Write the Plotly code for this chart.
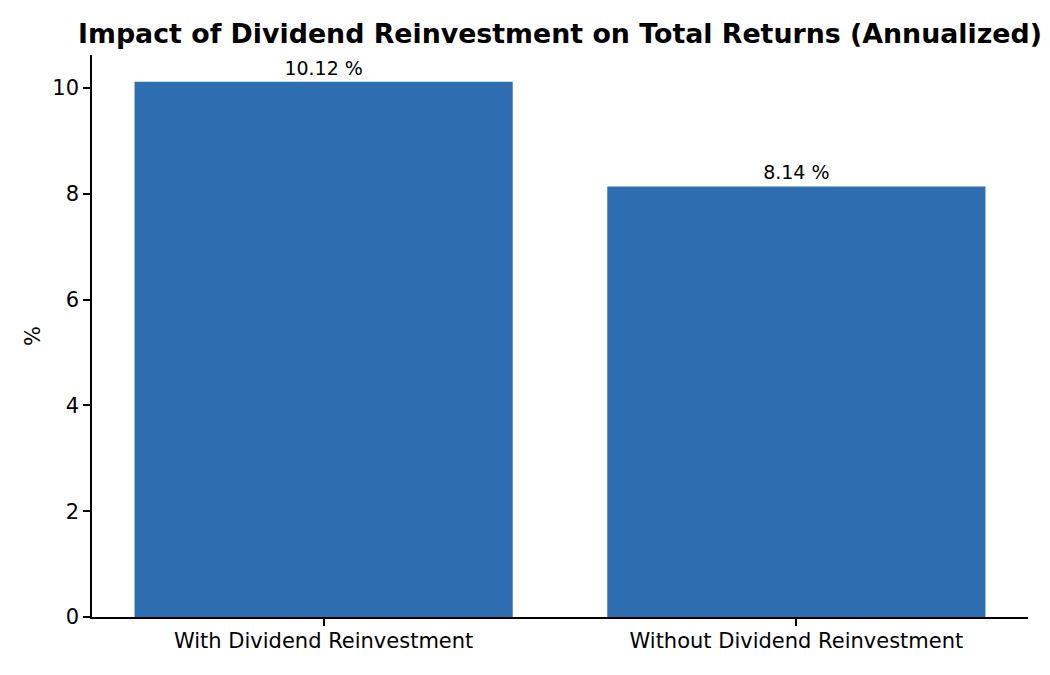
import plotly.graph_objects as go

categories = ["With Dividend Reinvestment", "Without Dividend Reinvestment"]
returns_pct = [10.12, 8.14]
value_labels = [f"{v:.2f} %" for v in returns_pct]

fig = go.Figure()

# Bars with value labels on top
fig.add_trace(
    go.Bar(
        x=[0, 1],
        y=returns_pct,
        width=0.8,
        marker=dict(color="#2e6db0", line=dict(width=0)),
        text=value_labels,
        textposition="outside",
        textfont=dict(family="DejaVu Sans", size=19, color="black"),
        cliponaxis=False,
        showlegend=False,
    )
)

# page body adds 8px, so the figure is a bit smaller than the window
fig.update_layout(
    width=1034,
    height=659,
    margin=dict(l=84, r=14, t=47, b=50),
    plot_bgcolor="white",
    paper_bgcolor="white",
    font=dict(family="DejaVu Sans", size=21, color="black"),
    title=dict(
        text="<b>Impact of Dividend Reinvestment on Total Returns (Annualized)</b>",
        x=0.5,
        xref="paper",
        xanchor="center",
        y=0.9605,
        yanchor="middle",
        font=dict(family="DejaVu Sans", size=26.8, color="black"),
    ),
)

fig.update_xaxes(
    range=[-0.49, 1.49],
    tickvals=[0, 1],
    ticktext=categories,
    showline=True,
    linecolor="black",
    linewidth=1.6,
    ticks="outside",
    ticklen=7,
    tickwidth=1.6,
    tickcolor="black",
    ticklabelstandoff=-3,
    showgrid=False,
    zeroline=False,
    tickfont=dict(size=21),
)
fig.update_yaxes(
    range=[0, 10.626],
    tickvals=[0, 2, 4, 6, 8, 10],
    showline=True,
    linecolor="black",
    linewidth=1.6,
    ticks="outside",
    ticklen=7,
    tickwidth=1.6,
    tickcolor="black",
    showgrid=False,
    zeroline=False,
    tickfont=dict(size=21),
    title=dict(text="%", font=dict(size=21), standoff=6),
)

fig.write_html("out.html")
